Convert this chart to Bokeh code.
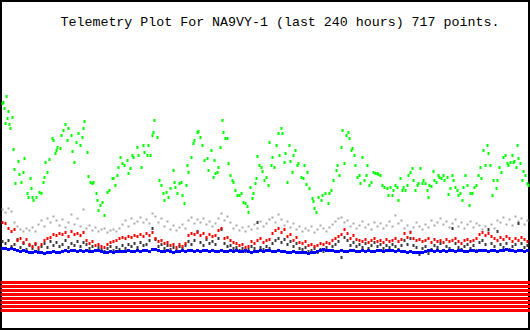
import numpy as np
from bokeh.plotting import figure
from bokeh.models import Range1d, ColumnDataSource, Label
from bokeh.embed import file_html
from bokeh.resources import INLINE

title_text = "Telemetry Plot For NA9VY-1 (last 240 hours) 717 points."

# sample times of the dense channels (regular telemetry interval)
times = np.arange(2, 528, 3)

blue_vals = [
    82, 82, 81, 82, 81, 80, 79, 80, 79, 78,
    78, 79, 78, 78, 77, 78, 78, 79, 78, 78,
    79, 80, 79, 80, 80, 79, 80, 79, 80, 79,
    79, 80, 80, 79, 78, 78, 79, 78, 79, 79,
    79, 79, 80, 79, 79, 80, 79, 80, 80, 79,
    81, 81, 80, 79, 79, 80, 79, 78, 79, 79,
    80, 79, 80, 80, 79, 80, 79, 80, 80, 79,
    80, 79, 79, 80, 79, 79, 80, 79, 80, 79,
    79, 80, 79, 78, 79, 79, 80, 79, 80, 80,
    79, 79, 80, 79, 79, 78, 78, 79, 78, 78,
    78, 78, 77, 78, 78, 79, 80, 81, 80, 80,
    80, 79, 79, 80, 79, 79, 80, 80, 79, 79,
    80, 79, 80, 79, 79, 80, 80, 79, 80, 80,
    80, 79, 80, 79, 79, 78, 79, 78, 78, 78,
    78, 79, 80, 80, 79, 80, 79, 80, 79, 80,
    80, 79, 80, 80, 79, 79, 80, 80, 79, 80,
    80, 80, 79, 80, 80, 79, 80, 80, 81, 80,
    80, 79, 80, 80, 79, 80,
]

dark_vals = [
    89, 87, 90, 84, 86, 91, 83, 87, 81, 85,
    82, 86, 80, 84, 87, 83, 89, 85, 88, 84,
    86, 90, 83, 87, 85, 89, 84, 88, 86, 82,
    84, 80, 83, 81, 79, 82, 84, 80, 83, 81,
    85, 82, 86, 84, 87, 83, 88, 85, 86, 90,
    102, 91, 84, 86, 82, 85, 81, 83, 80, 84,
    82, 85, 89, 86, 90, 99, 88, 85, 91, 87,
    89, 86, 92, 101, 87, 84, 85, 82, 83, 80,
    82, 79, 81, 84, 82, 108, 83, 81, 84, 82,
    87, 90, 92, 88, 91, 86, 89, 84, 87, 82,
    81, 83, 79, 80, 82, 78, 81, 79, 83, 80,
    84, 86, 89, 73, 93, 90, 85, 88, 84, 86,
    83, 87, 82, 85, 88, 84, 86, 82, 85, 83,
    86, 84, 81, 85, 90, 86, 92, 85, 83, 76,
    82, 84, 77, 81, 85, 83, 87, 80, 84, 82,
    102, 87, 83, 81, 84, 86, 82, 85, 80, 88,
    90, 86, 101, 87, 84, 99, 86, 83, 87, 81,
    84, 86, 107, 87, 83, 85,
]

red_vals = [
    108, 107, 102, 99, 101, 90, 92, 88, 91, 86,
    84, 87, 83, 86, 90, 92, 93, 96, 95, 97,
    96, 98, 94, 99, 96, 97, 95, 98, 90, 87,
    89, 85, 86, 84, 83, 86, 88, 89, 90, 92,
    93, 92, 94, 93, 95, 94, 96, 94, 97, 95,
    98, 92, 89, 90, 87, 88, 85, 86, 83, 86,
    84, 87, 95, 97, 96, 98, 95, 97, 93, 96,
    94, 95, 100, 102, 92, 93, 90, 88, 87, 85,
    86, 83, 84, 89, 87, 90, 92, 88, 90, 91,
    97, 100, 102, 98, 101, 94, 96, 90, 93, 88,
    87, 89, 85, 86, 84, 85, 87, 86, 88, 87,
    90, 92, 94, 96, 101, 97, 92, 95, 91, 90,
    89, 91, 88, 90, 92, 89, 90, 88, 91, 89,
    90, 92, 89, 91, 97, 93, 98, 92, 90, 91,
    89, 90, 92, 88, 91, 89, 90, 88, 91, 89,
    90, 92, 89, 87, 90, 91, 89, 90, 92, 96,
    98, 95, 97, 94, 92, 90, 93, 91, 94, 92,
    89, 92, 90, 93, 91, 89,
]

gray_vals = [
    121, 118, 122, 119, 108, 104, 101, 99, 102, 100,
    103, 99, 106, 110, 104, 112, 108, 114, 110, 105,
    111, 103, 108, 116, 106, 112, 104, 121, 102, 105,
    100, 103, 99, 101, 102, 98, 100, 101, 99, 102,
    106, 110, 104, 112, 107, 109, 113, 108, 111, 107,
    117, 114, 108, 112, 104, 109, 101, 105, 100, 103,
    106, 102, 110, 113, 107, 111, 108, 112, 106, 109,
    104, 107, 112, 117, 110, 114, 108, 102, 105, 100,
    103, 99, 104, 101, 106, 102, 109, 104, 107, 111,
    113, 108, 116, 111, 105, 109, 103, 107, 101, 104,
    99, 102, 100, 104, 98, 101, 105, 102, 99, 103,
    106, 109, 112, 113, 108, 110, 104, 107, 102, 105,
    109, 103, 106, 101, 108, 104, 107, 102, 105, 109,
    104, 115, 107, 110, 102, 105, 99, 103, 108, 104,
    101, 106, 103, 110, 105, 108, 112, 106, 109, 103,
    107, 111, 104, 108, 102, 106, 109, 103, 107, 105,
    101, 104, 99, 106, 102, 110, 108, 113, 106, 111,
    105, 114, 109, 112, 106, 110,
]

green_readings = [
    (2, 227), (3, 228), (4, 222), (5, 207), (6, 234), (7, 212), (8, 219), (9, 206), (10, 202), (12, 213),
    (13, 181), (14, 161), (15, 147), (18, 169), (19, 156), (21, 148), (23, 158), (24, 172), (27, 137), (28, 133),
    (30, 152), (31, 142), (32, 133), (33, 130), (36, 133), (39, 138), (41, 137), (43, 148), (44, 153), (45, 168),
    (47, 158), (49, 171), (52, 192), (53, 190), (55, 177), (56, 180), (57, 183), (60, 182), (61, 195), (63, 200),
    (65, 206), (67, 190), (68, 202), (71, 195), (72, 179), (74, 168), (76, 188), (78, 197), (80, 185), (82, 193),
    (83, 202), (84, 209), (87, 178), (88, 154), (90, 148), (92, 147), (93, 148), (96, 137), (97, 130), (98, 120),
    (100, 125), (102, 128), (104, 115), (107, 138), (109, 140), (112, 152), (113, 152), (115, 145), (117, 155), (118, 163),
    (120, 173), (122, 167), (124, 165), (127, 170), (128, 157), (130, 162), (132, 175), (133, 173), (137, 183), (138, 175),
    (141, 163), (143, 185), (144, 178), (147, 175), (148, 185), (150, 175), (152, 195), (153, 198), (154, 210), (157, 193),
    (159, 150), (161, 145), (163, 137), (164, 130), (166, 138), (168, 133), (170, 142), (173, 160), (174, 148), (175, 143),
    (177, 137), (179, 147), (181, 148), (182, 135), (184, 127), (186, 145), (187, 165), (188, 158), (191, 173), (193, 187),
    (194, 190), (197, 198), (198, 199), (200, 193), (202, 185), (204, 170), (207, 172), (208, 160), (211, 180), (213, 153),
    (214, 170), (215, 157), (217, 158), (218, 163), (220, 183), (222, 210), (223, 198), (225, 192), (227, 192), (228, 167),
    (230, 155), (232, 150), (233, 148), (235, 140), (237, 135), (239, 135), (241, 137), (243, 128), (245, 127), (247, 124),
    (248, 118), (250, 143), (252, 132), (253, 137), (255, 147), (256, 152), (257, 174), (259, 165), (261, 163), (262, 159),
    (264, 150),
    (266, 153), (268, 145), (269, 188), (271, 165), (272, 173), (274, 163), (276, 185), (278, 197), (279, 175), (281, 202),
    (282, 197), (284, 168), (285, 177), (287, 148), (289, 185), (290, 169), (292, 158), (293, 175), (295, 180), (297, 165),
    (298, 167), (301, 153), (303, 152), (304, 165), (306, 146), (307, 158), (309, 142), (312, 132), (313, 129), (314, 122),
    (316, 118), (318, 133), (321, 130), (322, 135), (325, 137), (328, 127), (329, 137), (331, 140), (333, 150), (336, 160),
    (337, 165), (339, 155), (341, 183), (342, 200), (344, 167), (346, 195), (348, 198), (349, 192), (351, 180), (352, 182),
    (354, 175), (355, 165), (357, 153), (359, 155), (360, 147), (362, 173), (364, 150), (366, 155), (367, 165), (369, 145),
    (371, 148), (373, 158), (375, 157), (377, 157), (378, 156), (380, 155), (382, 145), (384, 143), (387, 142), (388, 135),
    (390, 143), (392, 135), (393, 140), (395, 145), (397, 143), (398, 130), (400, 152), (402, 140), (403, 143), (405, 140),
    (407, 145), (408, 155), (410, 158), (412, 162), (413, 150), (415, 140), (417, 145), (418, 147), (420, 162), (422, 147),
    (423, 150), (425, 147), (427, 140), (428, 133), (429, 145), (431, 144), (433, 159), (434, 150), (436, 148), (438, 155),
    (439, 153), (441, 152), (443, 155), (444, 150), (447, 153), (448, 136), (450, 142), (452, 155), (453, 150), (455, 143),
    (457, 140), (458, 135), (460, 137), (462, 130), (463, 143), (465, 155), (467, 145), (469, 125), (470, 137), (472, 137),
    (474, 143), (476, 145), (478, 155), (480, 163), (481, 152), (483, 180), (485, 165), (487, 185), (488, 177), (490, 165),
    (492, 135), (493, 150), (496, 142), (497, 150), (499, 163), (501, 158), (503, 173), (505, 175), (507, 167), (508, 165),
    (510, 168), (512, 175), (513, 168), (514, 169), (516, 163), (517, 185), (518, 172), (520, 167), (522, 150), (523, 159),
    (525, 155), (527, 147), (528, 145),
]

# eight status-bit channels drawn as solid bands
stripe_levels = [48, 44, 40, 36, 32, 28, 24, 20]

p = figure(width=530, height=330, output_backend="svg", toolbar_location=None,
           x_range=Range1d(0, 530), y_range=Range1d(0, 330),
           x_axis_type=None, y_axis_type=None, min_border=0)
p.grid.visible = False
p.background_fill_color = "white"
p.border_fill_color = "white"
p.outline_line_color = "black"
p.outline_line_width = 3

t_start = float(times[0]) - 2
t_end = float(times[-1]) + 3
p.hbar(y=stripe_levels, left=t_start, right=t_end, height=3,
       color="#ff0000", line_color=None)

src = ColumnDataSource(dict(t=times, blue=blue_vals, dark=dark_vals,
                            red=red_vals, gray=gray_vals))
p.rect(x="t", y="gray", width=2, height=2, width_units="screen", height_units="screen",
       source=src, color="#a9a9a9", line_color=None)
p.rect(x="t", y="dark", width=2, height=3, width_units="screen", height_units="screen",
       source=src, color="#3a3a3a", line_color=None)
p.rect(x="t", y="red", width=2, height=3, width_units="screen", height_units="screen",
       source=src, color="#ff0000", line_color=None)
p.rect(x="t", y="blue", width=3, height=3, width_units="screen", height_units="screen",
       source=src, color="#0000ff", line_color=None)

gsrc = ColumnDataSource(dict(t=[g[0] for g in green_readings],
                             v=[g[1] for g in green_readings]))
p.rect(x="t", y="v", width=2, height=3, width_units="screen", height_units="screen",
       source=gsrc, color="#00ff00", line_color=None)

p.add_layout(Label(x=60, y=308, text=title_text, text_font="Liberation Mono",
                   text_font_size="13.3px", text_color="black", text_baseline="alphabetic"))

open("out.html", "w").write(file_html(p, INLINE))
